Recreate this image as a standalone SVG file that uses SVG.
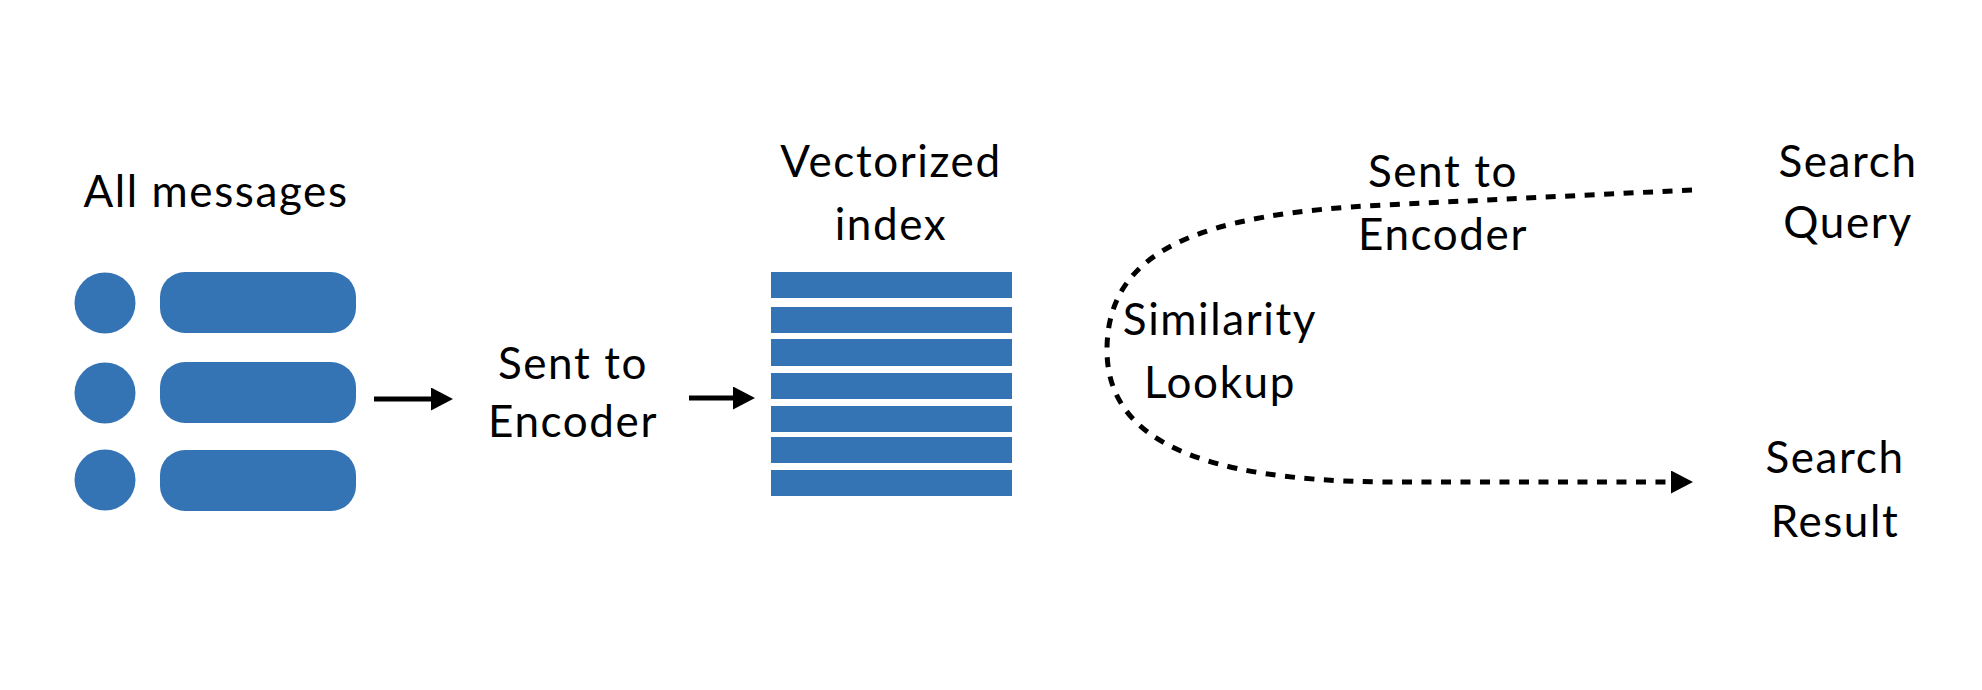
<svg xmlns="http://www.w3.org/2000/svg" width="1982" height="690" viewBox="0 0 1982 690">
  <style>
    .lbl { font-family: Lato, "Noto Sans", "Liberation Sans", sans-serif; font-size: 44px; letter-spacing: 1.6px; fill: #000; text-anchor: middle; }
    .blue { fill: #3473B4; }
    .conn { stroke: #000; fill: none; stroke-width: 5; }
    .dash { stroke: #000; fill: none; stroke-width: 5; stroke-dasharray: 10 9.5; }
  </style>
  <defs>
    <marker id="ah" markerUnits="userSpaceOnUse" markerWidth="24" markerHeight="24" refX="1" refY="11.5" orient="auto">
      <path d="M0,0 L22,11.5 L0,23 Z" fill="#000"/>
    </marker>
  </defs>
  <rect width="1982" height="690" fill="#fff"/>

  <g id="all-messages">
    <text class="lbl" x="216" y="207">All messages</text>
    <circle class="blue" cx="105" cy="303" r="30.5"/>
    <circle class="blue" cx="105" cy="393" r="30.5"/>
    <circle class="blue" cx="105" cy="480" r="30.5"/>
    <rect class="blue" x="160" y="272" width="196" height="61" rx="25"/>
    <rect class="blue" x="160" y="362" width="196" height="61" rx="25"/>
    <rect class="blue" x="160" y="450" width="196" height="61" rx="25"/>
  </g>

  <g id="sent-to-encoder-1">
    <text class="lbl" x="573" y="379">Sent to</text>
    <text class="lbl" x="573" y="437">Encoder</text>
  </g>

  <g id="vectorized-index">
    <text class="lbl" x="891" y="177">Vectorized</text>
    <text class="lbl" x="891" y="240">index</text>
    <rect class="blue" x="771" y="272" width="241" height="26"/>
    <rect class="blue" x="771" y="307" width="241" height="26"/>
    <rect class="blue" x="771" y="339" width="241" height="27"/>
    <rect class="blue" x="771" y="373" width="241" height="26"/>
    <rect class="blue" x="771" y="406" width="241" height="26"/>
    <rect class="blue" x="771" y="437" width="241" height="26"/>
    <rect class="blue" x="771" y="470" width="241" height="26"/>
  </g>

  <g id="search-query">
    <text class="lbl" x="1848" y="177">Search</text>
    <text class="lbl" x="1848" y="238">Query</text>
  </g>

  <g id="search-result">
    <text class="lbl" x="1835" y="473">Search</text>
    <text class="lbl" x="1835" y="537">Result</text>
  </g>

  <g id="connectors">
    <line class="conn" x1="374" y1="399" x2="432" y2="399" marker-end="url(#ah)"/>
    <line class="conn" x1="689" y1="398" x2="734" y2="398" marker-end="url(#ah)"/>
    <path class="dash" d="M1692,190 L1383,205 C1200,214 1107,250 1107,350 C1107,440 1200,480 1383,482 L1672,482" marker-end="url(#ah)"/>
    <text class="lbl" x="1443" y="187">Sent to</text>
    <text class="lbl" x="1443" y="250">Encoder</text>
    <text class="lbl" x="1220" y="335">Similarity</text>
    <text class="lbl" x="1220" y="398">Lookup</text>
  </g>
</svg>
